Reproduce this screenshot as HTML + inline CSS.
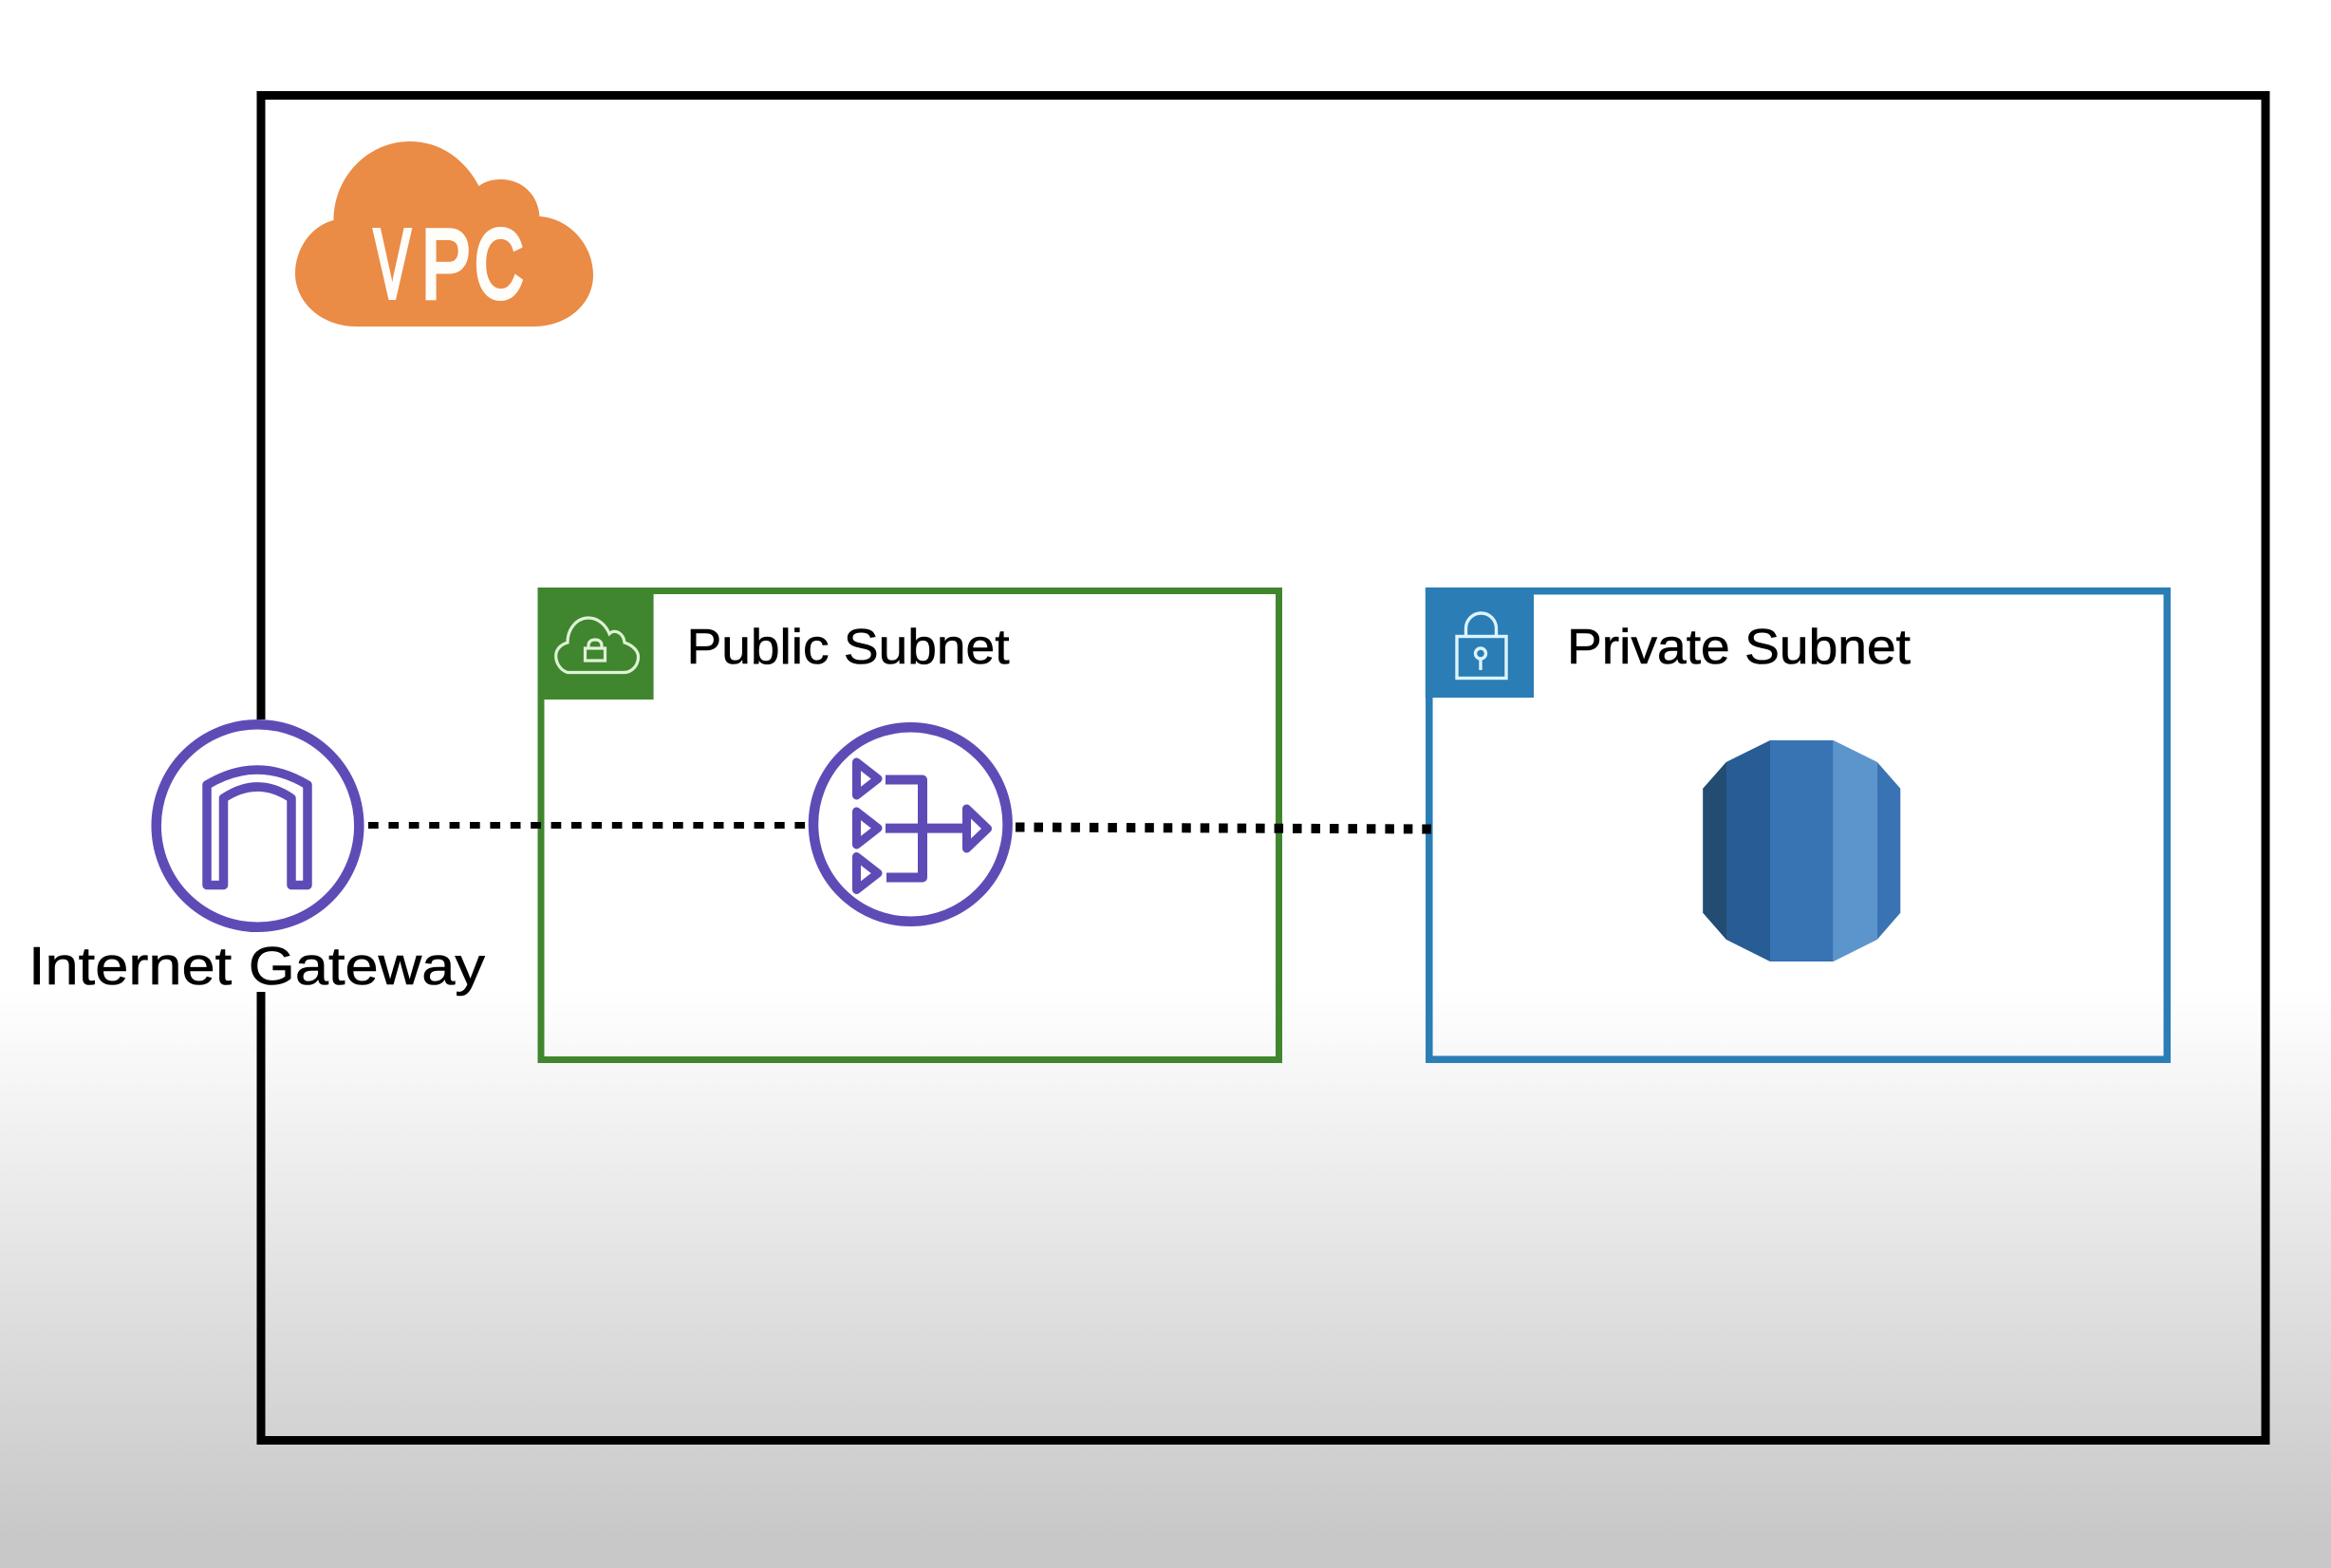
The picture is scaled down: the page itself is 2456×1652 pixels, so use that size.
<!DOCTYPE html>
<html lang="en">
<head>
<meta charset="utf-8">
<title>VPC diagram</title>
<style>
html,body{margin:0;padding:0;background:#fff;width:2456px;height:1652px;overflow:hidden}
svg{display:block}
text{font-family:"Liberation Sans",sans-serif;fill:#000}
.lbl{stroke:#000;stroke-width:0.6}
.vpc{fill:#fffdfa;stroke:#fffdfa;stroke-width:5}
</style>
</head>
<body>
<svg xmlns="http://www.w3.org/2000/svg" width="2456" height="1652" viewBox="0 0 2456 1652">
<defs>
<linearGradient id="bg" gradientUnits="userSpaceOnUse" x1="0" y1="0" x2="0" y2="1652">
<stop offset="0" stop-color="#ffffff"/>
<stop offset="0.63" stop-color="#ffffff"/>
<stop offset="0.98" stop-color="#c8c8c8"/>
<stop offset="1" stop-color="#c8c8c8"/>
</linearGradient>
</defs>
<rect width="2456" height="1652" fill="url(#bg)"/>

<!-- VPC frame, open on the left behind the gateway and its label -->
<path d="M275 758V100.500H2387V1517.500H275V1045" fill="none" stroke="#000" stroke-width="9"/>

<!-- VPC cloud -->
<path d="M376 344C338 344 311 318 311 288C311 262 328 238 351.500 232C351.500 186 388 149 432 149C464 149 490 168 504.600 196C511 191 519 189 527.600 189C550 189 567 205 568.500 228C600 230 625 258 625 290C625 320 598 344 562 344Z" fill="#ea8b46"/>
<text class="vpc" x="394" y="313.500" font-size="103" textLength="38.500" lengthAdjust="spacingAndGlyphs">V</text>
<text class="vpc" x="444" y="313.500" font-size="103" textLength="52" lengthAdjust="spacingAndGlyphs">P</text>
<text class="vpc" x="500" y="313.500" font-size="103" textLength="51.500" lengthAdjust="spacingAndGlyphs">C</text>

<!-- Public subnet -->
<rect x="570" y="622.500" width="777.500" height="494" fill="none" stroke="#40862e" stroke-width="7"/>
<rect x="566.500" y="619" width="122.100" height="118" fill="#40862e"/>
<path d="M598 708.500C590 706 585.700 698 585.700 691C585.700 684 591 679 598 677C598 662 608 651 620 651C630 651 638 658 642 667.700C648 662 657 667 658 677C667 680 672.500 686 672.500 692C672.500 701 666 708.500 657 708.500Z" fill="none" stroke="#dff3d8" stroke-width="3.200"/>
<rect x="616.500" y="683" width="21" height="13" fill="none" stroke="#dff3d8" stroke-width="3.200"/>
<path d="M620 683V680C620 676 623 674 627 674C631 674 634 676 634 680V683" fill="none" stroke="#dff3d8" stroke-width="3.200"/>
<text class="lbl" x="723.500" y="699" font-size="52" textLength="340" lengthAdjust="spacingAndGlyphs">Public Subnet</text>

<!-- Private subnet -->
<rect x="1505.800" y="622.700" width="777.500" height="493.500" fill="none" stroke="#2a7db5" stroke-width="7.500"/>
<rect x="1501.800" y="619" width="114.200" height="116" fill="#2a7db5"/>
<rect x="1535" y="670.500" width="52" height="44" fill="none" stroke="#dcf4ff" stroke-width="3.400"/>
<path d="M1544.500 670V662A16 16 0 0 1 1576.500 662V670" fill="none" stroke="#dcf4ff" stroke-width="3.400"/>
<circle cx="1560" cy="688.500" r="5.500" fill="none" stroke="#dcf4ff" stroke-width="3.400"/>
<path d="M1560 694V706" fill="none" stroke="#dcf4ff" stroke-width="3.400"/>
<text class="lbl" x="1651" y="699" font-size="52" textLength="362" lengthAdjust="spacingAndGlyphs">Private Subnet</text>

<!-- Connectors -->
<line x1="388" y1="869.500" x2="851" y2="869.500" stroke="#000" stroke-width="7" stroke-dasharray="10.700 10.700"/>
<line x1="1070" y1="871.500" x2="1508" y2="873.500" stroke="#000" stroke-width="10" stroke-dasharray="9.500 9.970"/>

<!-- Internet gateway -->
<circle cx="271.500" cy="870" r="106.800" fill="#fff" stroke="#5f4bb6" stroke-width="10.500"/>
<path d="M218 827Q271 795 324 827V932.500H307V841Q271.500 817 235.500 841V932.500H218Z" fill="none" stroke="#5f4bb6" stroke-width="9.500" stroke-linejoin="round"/>
<text class="lbl" x="30" y="1037" font-size="57" textLength="481" lengthAdjust="spacingAndGlyphs">Internet Gateway</text>

<!-- NAT gateway -->
<circle cx="959.300" cy="868.500" r="102.300" fill="none" stroke="#5f4bb6" stroke-width="10.500"/>
<g fill="none" stroke="#5f4bb6" stroke-linejoin="round">
<path stroke-width="9" d="M902.500 803V838L925 820.500Z"/>
<path stroke-width="9" d="M902.500 855V890L925 872.500Z"/>
<path stroke-width="9" d="M902.500 902.500V937.500L925 920Z"/>
<path stroke-width="9" d="M1018.500 852V894L1040.500 873Z"/>
<path stroke-width="10" d="M933 821.500H972V924.500H934"/>
<path stroke-width="10" d="M933 872.600H1016"/>
</g>

<!-- RDS database -->
<path d="M1865 780L1819 802.700L1794.300 830.700V961.700L1819 990L1865 1013Z" fill="#285c94"/>
<path d="M1819 802.700L1794.300 830.700V961.700L1819 990Z" fill="#234c72"/>
<rect x="1865" y="780" width="66.700" height="233" fill="#3873b4"/>
<path d="M1931.700 780L1977.700 802.700V990L1931.700 1013Z" fill="#5c94cc"/>
<path d="M1977.700 802.700L2002.300 830.700V961.700L1977.700 990Z" fill="#3a73b4"/>
</svg>
</body>
</html>
